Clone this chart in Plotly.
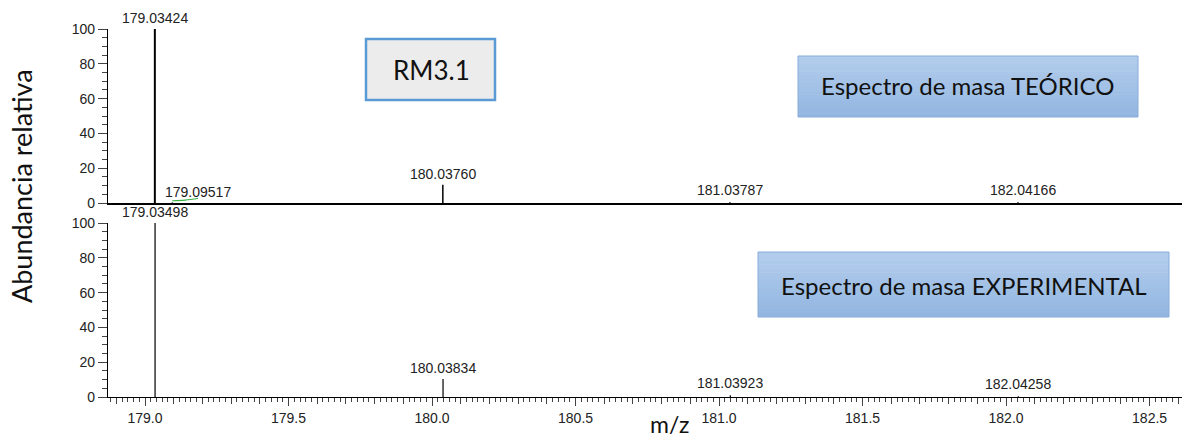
import plotly.graph_objects as go

W, H = 1183, 438
ML, MR, MT, MB = 108, 1, 29, 41

# ---- data ----
theo_mz = [179.03424, 179.09517, 180.03760, 181.03787, 182.04166]
theo_int = [100, 0.3, 10.5, 0.5, 0.4]
exp_mz = [179.03498, 180.03834, 181.03923, 182.04258]
exp_int = [100, 10.3, 1.0, 0.4]
green_mz = [179.095, 179.14, 179.185]
green_int = [1.3, 1.7, 2.6]
xtick_vals = [179.0, 179.5, 180.0, 180.5, 181.0, 181.5, 182.0, 182.5]
xtick_text = ["179.0", "179.5", "180.0", "180.5", "181.0", "181.5", "182.0", "182.5"]
ytick_vals = [0, 20, 40, 60, 80, 100]
x_range = [178.871, 182.613]


def px(x):
    return (x - ML) / (W - ML - MR)


def py(y):
    return 1 - (y - MT) / (H - MT - MB)


def sticks(mz, inten):
    xs, ys = [], []
    for m, h in zip(mz, inten):
        xs += [m, m, None]
        ys += [0, h, None]
    return xs, ys


fig = go.Figure()

# theoretical spectrum (top)
tx, ty = sticks(theo_mz[1:], theo_int[1:])
fig.add_trace(go.Scatter(x=tx, y=ty, mode="lines", line=dict(color="black", width=1.5),
                         xaxis="x", yaxis="y", hoverinfo="skip", showlegend=False))
tx, ty = sticks(theo_mz[:1], theo_int[:1])
fig.add_trace(go.Scatter(x=tx, y=ty, mode="lines", line=dict(color="black", width=2),
                         xaxis="x", yaxis="y", hoverinfo="skip", showlegend=False))
fig.add_trace(go.Scatter(x=green_mz, y=green_int, mode="lines", line=dict(color="#3cb043", width=1.2, shape="spline"),
                         xaxis="x", yaxis="y", hoverinfo="skip", showlegend=False))
# experimental spectrum (bottom)
ex, ey = sticks(exp_mz, exp_int)
fig.add_trace(go.Scatter(x=ex, y=ey, mode="lines", line=dict(color="black", width=1.2),
                         xaxis="x2", yaxis="y2", hoverinfo="skip", showlegend=False))
# invisible trace so the medium-tick axis is drawn
fig.add_trace(go.Scatter(x=[x_range[0]], y=[0], mode="markers", marker=dict(opacity=0),
                         xaxis="x3", yaxis="y2", hoverinfo="skip", showlegend=False))

tickfont = dict(family="Liberation Sans, Arial", size=14, color="#222")
top_dom = [py(203), 1]
bot_dom = [0, py(223)]

yax = dict(range=[0, 100], tickvals=ytick_vals, ticks="outside", ticklen=9, tickwidth=1,
           showline=True, linecolor="black", linewidth=1.2, showgrid=False, zeroline=False,
           tickfont=tickfont, automargin=False,
           minor=dict(dtick=5, ticks="outside", ticklen=5, tickwidth=1, showgrid=False),
           fixedrange=True)

fig.update_layout(
    width=W, height=H,
    margin=dict(l=ML, r=MR, t=MT, b=MB, autoexpand=False),
    plot_bgcolor="white", paper_bgcolor="white",
    xaxis=dict(range=x_range, domain=[0, 1], anchor="y", showline=True, linecolor="black", linewidth=2,
               showticklabels=False, ticks="", showgrid=False, zeroline=False, automargin=False),
    yaxis=dict(domain=top_dom, anchor="x", **yax),
    xaxis2=dict(range=x_range, domain=[0, 1], anchor="y2", showline=True, linecolor="black", linewidth=1.2,
                tickvals=xtick_vals, ticktext=xtick_text, ticks="outside", ticklen=8, tickwidth=1,
                tickfont=tickfont, showgrid=False, zeroline=False, automargin=False,
                minor=dict(dtick=0.02, tick0=179.0, ticks="outside", ticklen=4, tickwidth=1, showgrid=False)),
    xaxis3=dict(range=x_range, domain=[0, 1], anchor="y2", overlaying="x2", side="bottom",
                dtick=0.1, tick0=179.0, ticks="outside", ticklen=6, tickwidth=1, showticklabels=False,
                showgrid=False, zeroline=False, showline=False, automargin=False),
    yaxis2=dict(domain=bot_dom, anchor="x2", **yax),
)

lab_font = dict(family="Liberation Sans, Arial", size=14, color="#222")
ann = []
shifts_top = [(0, 1), (26, 0), (0, 1), (0, 2), (5, 2)]
for (m, h), (xs, ys) in zip(zip(theo_mz, theo_int), shifts_top):
    ann.append(dict(x=m, y=h, xref="x", yref="y", text=f"{m:.5f}", showarrow=False,
                    xanchor="center", yanchor="bottom", xshift=xs, yshift=ys, font=lab_font))
shifts_bot = [(0, 1), (0, 1), (0, 2), (0, 2)]
for (m, h), (xs, ys) in zip(zip(exp_mz, exp_int), shifts_bot):
    ann.append(dict(x=m, y=h, xref="x2", yref="y2", text=f"{m:.5f}", showarrow=False,
                    xanchor="center", yanchor="bottom", xshift=xs, yshift=ys, font=lab_font))


def label(xp, yp, text, size, angle=0):
    ann.append(dict(x=px(xp), y=py(yp), xref="paper", yref="paper", text=text, textangle=angle,
                    showarrow=False, xanchor="center", yanchor="middle",
                    font=dict(family="Lato, Open Sans", size=size, color="#111")))


label(22, 186, "Abundancia relativa", 27, -90)
label(669, 424, "m/z", 23)

shapes = []


def grad_box(x0, y0, x1, y1, c_top, c_bot, border, n=16):
    def hx(c):
        return [int(c[i:i + 2], 16) for i in (1, 3, 5)]
    a, b = hx(c_top), hx(c_bot)
    for i in range(n):
        t = i / (n - 1)
        col = "rgb(%d,%d,%d)" % tuple(round(a[k] + (b[k] - a[k]) * t) for k in range(3))
        ya = y0 + (y1 - y0) * i / n
        yb = y0 + (y1 - y0) * (i + 1) / n
        shapes.append(dict(type="rect", xref="paper", yref="paper", x0=px(x0), x1=px(x1),
                           y0=py(ya), y1=py(min(yb + 0.5, y1)), fillcolor=col, line=dict(width=0), layer="above"))
    shapes.append(dict(type="rect", xref="paper", yref="paper", x0=px(x0), x1=px(x1),
                       y0=py(y0), y1=py(y1), fillcolor="rgba(0,0,0,0)", line=dict(color=border, width=1),
                       layer="above"))


shapes.append(dict(type="rect", xref="paper", yref="paper", x0=px(366), x1=px(495), y0=py(39), y1=py(100),
                   fillcolor="#ececec", line=dict(color="#5b9bd5", width=2.5), layer="above"))
grad_box(798, 56, 1138, 117, "#b2cdec", "#93b6e1", "#88acd9")
grad_box(758, 252, 1169, 317, "#b2cdec", "#93b6e1", "#88acd9")

label(431, 70, "RM3.1", 26)
label(967, 86, "Espectro de masa TEÓRICO", 24)
label(964, 285, "Espectro de masa EXPERIMENTAL", 24)

fig.update_layout(annotations=ann, shapes=shapes)
fig.write_html("out.html", config={"displayModeBar": False},
               post_script="document.body.style.margin='0';")
